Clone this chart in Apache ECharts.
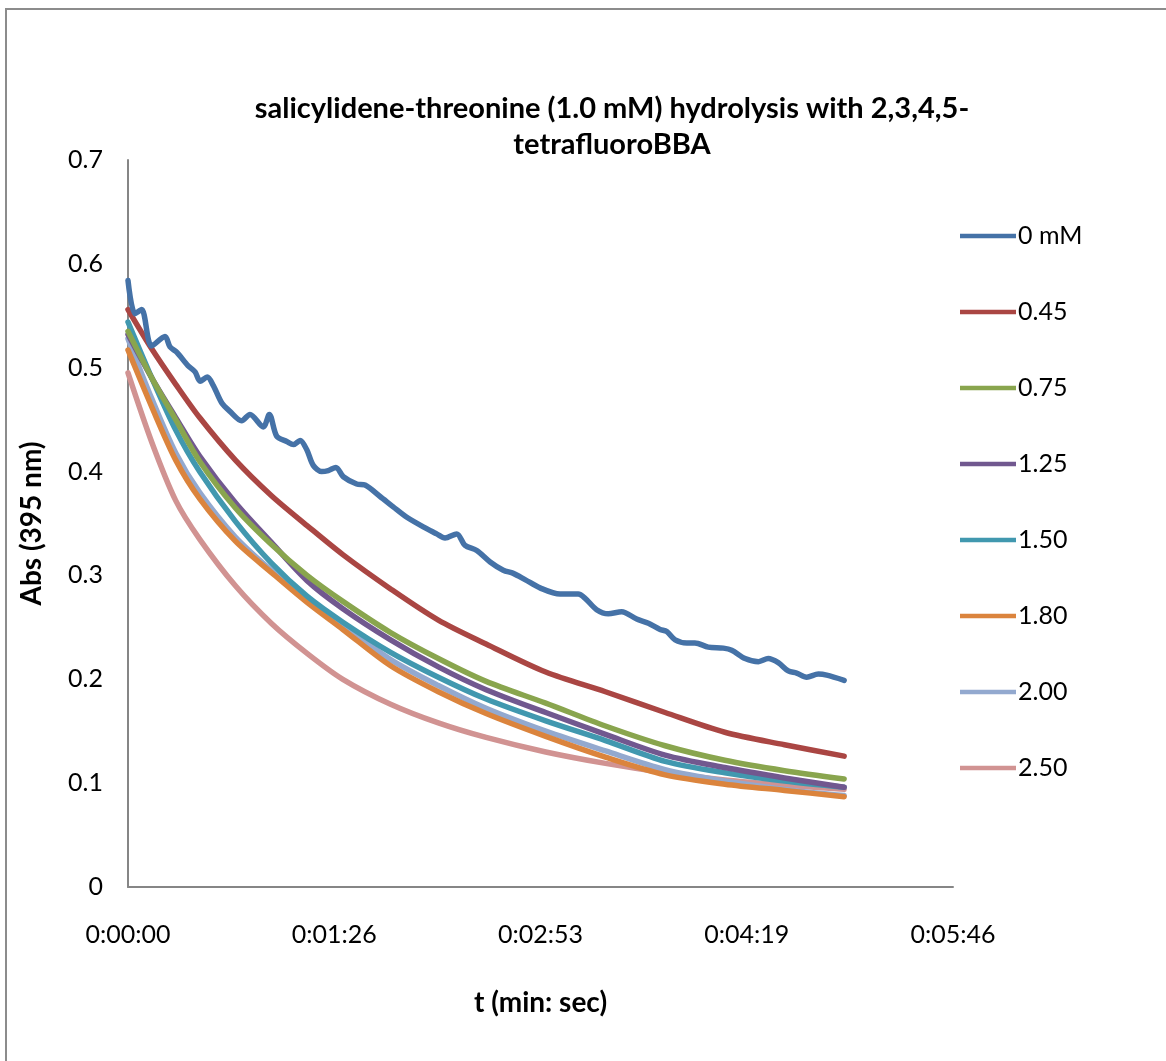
<!DOCTYPE html>
<html>
<head>
<meta charset="utf-8">
<script src="https://cdn.jsdelivr.net/npm/echarts@6/dist/echarts.min.js"></script>
<style>
  html, body { margin: 0; padding: 0; background: #ffffff; }
  #chart { width: 1166px; height: 1061px; }
</style>
</head>
<body>
<div id="chart"></div>
<script>
// Time in seconds; axis labels shown as h:mm:ss (Excel day fractions of 0.001 = 86.4 s)
const xTickLabels = ['0:00:00', '0:01:26', '0:02:53', '0:04:19', '0:05:46'];
const yTickLabels = ['0', '0.1', '0.2', '0.3', '0.4', '0.5', '0.6', '0.7'];

const seriesNames = ['0 mM', '0.45', '0.75', '1.25', '1.50', '1.80', '2.00', '2.50'];

// 0 mM run (noisier trace, sampled more densely)
const time0mM = [0, 2.9, 5.7, 9.9, 15.5, 17.6, 20.4, 25.1, 28.1, 30.2, 33.2, 35.7, 39.3, 42.7, 47.6,
  51.1, 56.7, 59.2, 62.3, 66.5, 69.3, 72.1, 74.9, 77.6, 81.1, 83.9, 87.1, 90.2, 95.8, 99.3,
  105.6, 111.1, 116.8, 125.1, 129.3, 132.8, 137.7, 141.2, 146.1, 151.7, 157.2, 161.4, 166.3,
  172.6, 181.0, 188.6, 191.5, 196.3, 201.2, 206.8, 213.1, 218.0, 222.9, 225.7, 229.2, 234.1,
  237.5, 243.1, 249.4, 252.9, 258.5, 264.1, 268.2, 272.4, 276.6, 280.1, 284.3, 289.2, 292.7, 300.0];
const abs0mM = [0.584, 0.552, 0.556, 0.521, 0.530, 0.520, 0.515, 0.502, 0.496, 0.487, 0.491, 0.483, 0.466, 0.458, 0.449,
  0.455, 0.443, 0.455, 0.434, 0.429, 0.426, 0.430, 0.421, 0.406, 0.400, 0.401, 0.404, 0.395, 0.388, 0.387,
  0.376, 0.366, 0.356, 0.345, 0.340, 0.336, 0.340, 0.329, 0.324, 0.313, 0.305, 0.302, 0.296,
  0.288, 0.282, 0.282, 0.278, 0.267, 0.263, 0.265, 0.258, 0.254, 0.248, 0.246, 0.238, 0.235,
  0.235, 0.231, 0.230, 0.228, 0.220, 0.217, 0.220, 0.216, 0.208, 0.206, 0.202, 0.205, 0.204, 0.199];

// Remaining runs share one time grid
const timeGrid = [0, 10, 20, 30, 45, 60, 75, 90, 110, 130, 150, 175, 200, 225, 250, 275, 300];
const abs045 = [0.556, 0.518, 0.484, 0.452, 0.411, 0.377, 0.348, 0.320, 0.287, 0.257, 0.234, 0.207, 0.188, 0.168, 0.149, 0.137, 0.126];
const abs075 = [0.535, 0.490, 0.450, 0.410, 0.365, 0.330, 0.300, 0.275, 0.245, 0.220, 0.198, 0.177, 0.155, 0.136, 0.122, 0.112, 0.104];
const abs125 = [0.532, 0.490, 0.452, 0.415, 0.370, 0.332, 0.295, 0.268, 0.238, 0.212, 0.190, 0.168, 0.147, 0.127, 0.115, 0.105, 0.096];
const abs150 = [0.544, 0.490, 0.440, 0.400, 0.352, 0.312, 0.280, 0.255, 0.226, 0.202, 0.181, 0.160, 0.141, 0.121, 0.110, 0.102, 0.096];
const abs180 = [0.517, 0.462, 0.411, 0.374, 0.333, 0.303, 0.274, 0.248, 0.213, 0.188, 0.167, 0.145, 0.125, 0.108, 0.099, 0.093, 0.087];
const abs200 = [0.528, 0.470, 0.418, 0.380, 0.337, 0.305, 0.277, 0.252, 0.219, 0.194, 0.172, 0.150, 0.131, 0.113, 0.102, 0.094, 0.088];
const abs250 = [0.495, 0.428, 0.372, 0.335, 0.290, 0.254, 0.225, 0.200, 0.176, 0.158, 0.144, 0.130, 0.119, 0.110, 0.103, 0.098, 0.094];

const colors = ['#4572A7', '#AA4643', '#89A54E', '#71588F', '#4198AF', '#DB843D', '#93A9CF', '#D19392'];

const pair = (ts, vs) => ts.map((t, i) => [t, vs[i]]);
const runs = [
  pair(time0mM, abs0mM),
  pair(timeGrid, abs045),
  pair(timeGrid, abs075),
  pair(timeGrid, abs125),
  pair(timeGrid, abs150),
  pair(timeGrid, abs180),
  pair(timeGrid, abs200),
  pair(timeGrid, abs250)
];

const FONT = 'Lato, "Noto Sans", sans-serif';
const axisColor = '#868686';

const chart = echarts.init(document.getElementById('chart'), null, { renderer: 'canvas' });

chart.setOption({
  backgroundColor: '#ffffff',
  animation: false,
  color: colors,
  title: {
    text: 'salicylidene-threonine (1.0 mM) hydrolysis with 2,3,4,5-\ntetrafluoroBBA',
    left: 607,
    textAlign: 'center',
    top: 86,
    textStyle: { fontFamily: FONT, fontWeight: 'bold', fontSize: 29, lineHeight: 36, color: '#000' }
  },
  legend: {
    orient: 'vertical',
    left: 955,
    top: 217,
    itemWidth: 56,
    itemHeight: 14,
    itemGap: 48,
    icon: 'path://M0,0 L56,0 L56,4.5 L0,4.5 Z',
    data: seriesNames,
    textStyle: { fontFamily: FONT, fontSize: 25, color: '#000', lineHeight: 28, padding: [0, 0, 0, -3] }
  },
  grid: { left: 128, right: 213, top: 160, bottom: 174, containLabel: false },
  xAxis: {
    type: 'value',
    min: 0,
    max: 345.6,
    interval: 86.4,
    name: 't (min: sec)',
    nameLocation: 'middle',
    nameGap: 102,
    nameTextStyle: { fontFamily: FONT, fontWeight: 'bold', fontSize: 28, color: '#000' },
    axisLine: { show: true, onZero: false, lineStyle: { color: axisColor, width: 2 } },
    axisTick: { show: false },
    splitLine: { show: false },
    axisLabel: {
      margin: 35,
      fontFamily: FONT, fontSize: 25, color: '#000',
      formatter: v => xTickLabels[Math.round(v / 86.4)]
    }
  },
  yAxis: {
    type: 'value',
    min: 0,
    max: 0.7,
    interval: 0.1,
    name: 'Abs (395 nm)',
    nameLocation: 'middle',
    nameGap: 82,
    nameRotate: 90,
    nameTextStyle: { fontFamily: FONT, fontWeight: 'bold', fontSize: 28, color: '#000' },
    axisLine: { show: true, lineStyle: { color: axisColor, width: 2 } },
    axisTick: { show: false },
    splitLine: { show: false },
    axisLabel: {
      margin: 25,
      fontFamily: FONT, fontSize: 25, color: '#000',
      formatter: v => yTickLabels[Math.round(v * 10)]
    }
  },
  graphic: [{
    type: 'rect',
    shape: { x: 6, y: 9, width: 1200, height: 1100 },
    style: { fill: 'none', stroke: '#8c8c8c', lineWidth: 2 },
    silent: true
  }],
  series: runs.map((d, i) => ({
    name: seriesNames[i],
    type: 'line',
    data: d,
    smooth: 0.3,
    symbol: 'none',
    z: 10 - i,
    lineStyle: { width: 5.5, color: colors[i], cap: 'round', join: 'round' }
  }))
});
</script>
</body>
</html>
